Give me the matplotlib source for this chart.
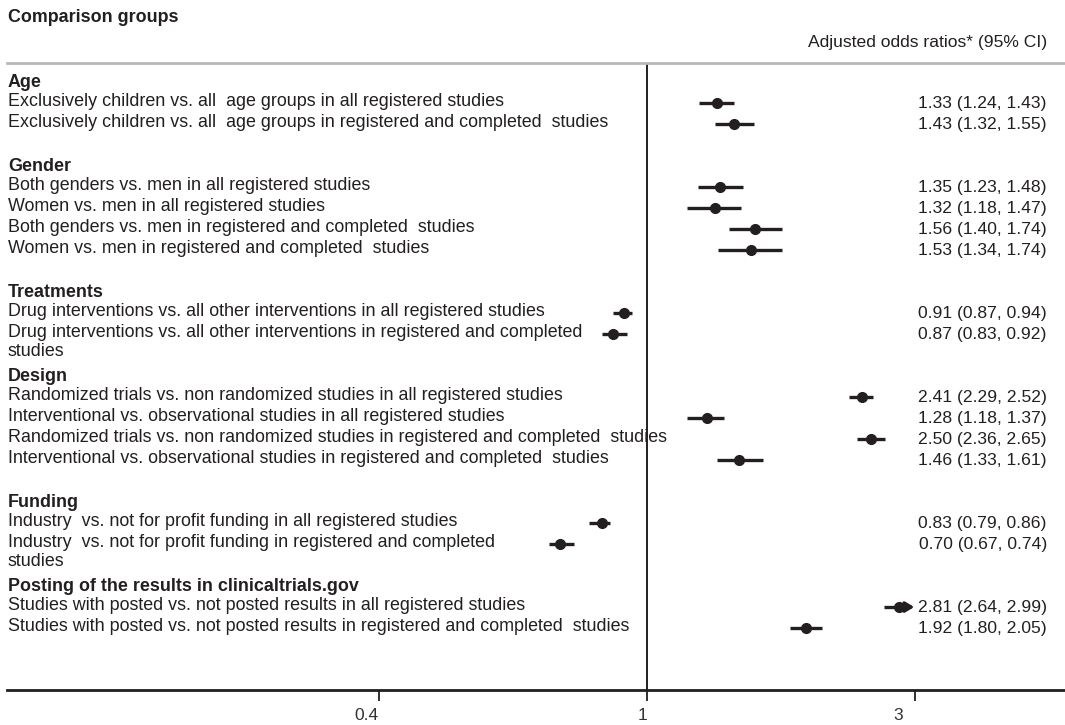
import numpy as np
import matplotlib
matplotlib.use("Agg")
import matplotlib.pyplot as plt
import matplotlib.transforms as mtransforms

plt.rcParams["font.family"] = ["Liberation Sans", "DejaVu Sans"]

# Groups and the comparisons inside each one
groups = [
    "Age",
    "Gender",
    "Treatments",
    "Design",
    "Funding",
    "Posting of the results in clinicaltrials.gov",
]
labels = [
    ["Exclusively children vs. all  age groups in all registered studies",
     "Exclusively children vs. all  age groups in registered and completed  studies"],
    ["Both genders vs. men in all registered studies",
     "Women vs. men in all registered studies",
     "Both genders vs. men in registered and completed  studies",
     "Women vs. men in registered and completed  studies"],
    ["Drug interventions vs. all other interventions in all registered studies",
     "Drug interventions vs. all other interventions in registered and completed\nstudies"],
    ["Randomized trials vs. non randomized studies in all registered studies",
     "Interventional vs. observational studies in all registered studies",
     "Randomized trials vs. non randomized studies in registered and completed  studies",
     "Interventional vs. observational studies in registered and completed  studies"],
    ["Industry  vs. not for profit funding in all registered studies",
     "Industry  vs. not for profit funding in registered and completed\nstudies"],
    ["Studies with posted vs. not posted results in all registered studies",
     "Studies with posted vs. not posted results in registered and completed  studies"],
]
odds = [
    [1.33, 1.43],
    [1.35, 1.32, 1.56, 1.53],
    [0.91, 0.87],
    [2.41, 1.28, 2.50, 1.46],
    [0.83, 0.70],
    [2.81, 1.92],
]
lower = [
    [1.24, 1.32],
    [1.23, 1.18, 1.40, 1.34],
    [0.87, 0.83],
    [2.29, 1.18, 2.36, 1.33],
    [0.79, 0.67],
    [2.64, 1.80],
]
upper = [
    [1.43, 1.55],
    [1.48, 1.47, 1.74, 1.74],
    [0.94, 0.92],
    [2.52, 1.37, 2.65, 1.61],
    [0.86, 0.74],
    [2.99, 2.05],
]
# CI drawn with an arrow at its upper end
arrow_upper = [
    [False, False],
    [False, False, False, False],
    [False, False],
    [False, False, False, False],
    [False, False],
    [True, False],
]

tick_values = [1 / 3, 1, 3]
tick_labels = ["0.4", "1", "3"]

INK = "#231f20"
FS_LABEL = 12.9
FS_VALUE = 12.6

fig = plt.figure(figsize=(10.65, 7.25), dpi=100)
W, H = 1065, 725
ax = fig.add_axes([7 / W, (H - 690) / H, (W - 7) / W, (690 - 63) / H])

ax.set_xscale("log")
ax.set_xlim(0.0726, 5.546)
ax.set_ylim(28.95, -0.905)

for side in ["left", "right"]:
    ax.spines[side].set_visible(False)
ax.spines["top"].set_color("#b8b8b8")
ax.spines["top"].set_linewidth(2)
ax.spines["bottom"].set_color(INK)
ax.spines["bottom"].set_linewidth(2)

ax.set_yticks([])
ax.xaxis.set_minor_locator(matplotlib.ticker.NullLocator())
ax.set_xticks(tick_values)
ax.set_xticklabels(tick_labels)
ax.tick_params(axis="x", direction="out", length=8, width=1.3, color=INK,
               labelsize=12.5, labelcolor="#333333", pad=5)
# the tick labels sit a little left of their ticks
shift = [-12, -4, -17]
for t, dx in zip(ax.get_xticklabels(), shift):
    t.set_transform(t.get_transform() + mtransforms.Affine2D().translate(dx, 0))

ax.axvline(1, color=INK, linewidth=1.4, zorder=1)

trans = mtransforms.blended_transform_factory(ax.transAxes, ax.transData)
x_left = 1 / (W - 7)
x_right = (1047 - 7) / (W - 7)

slot = 0
for g, name in enumerate(groups):
    ax.text(x_left, slot, name, transform=trans, ha="left", va="center",
            fontsize=FS_LABEL, fontweight="bold", color=INK)
    slot += 1
    for i, lab in enumerate(labels[g]):
        est, lo, hi = odds[g][i], lower[g][i], upper[g][i]
        ax.text(x_left, slot - 0.5, lab, transform=trans, ha="left", va="top",
                fontsize=FS_LABEL, color=INK, linespacing=1.2)
        if arrow_upper[g][i]:
            ax.plot([lo, est], [slot, slot], color=INK, linewidth=2.4,
                    solid_capstyle="butt", zorder=3)
            ax.annotate("", xy=(hi, slot), xytext=(est, slot),
                        arrowprops=dict(arrowstyle="-|>,head_length=0.5,head_width=0.3",
                                        color=INK, linewidth=2.4, shrinkA=0, shrinkB=0),
                        zorder=3)
        else:
            ax.plot([lo, hi], [slot, slot], color=INK, linewidth=2.4,
                    solid_capstyle="butt", zorder=3)
        ax.plot(est, slot, marker="o", markersize=7, color=INK, zorder=4)
        ax.text(x_right, slot, f"{est:.2f} ({lo:.2f}, {hi:.2f})", transform=trans,
                ha="right", va="center", fontsize=FS_VALUE, color=INK)
        slot += 1
    slot += 1

fig.text(8 / W, 1 - 18 / H, "Comparison groups", ha="left", va="center",
         fontsize=FS_LABEL, fontweight="bold", color=INK)
fig.text(1047 / W, 1 - 42 / H, "Adjusted odds ratios* (95% CI)", ha="right",
         va="center", fontsize=FS_VALUE, color=INK)

fig.savefig("out.png", dpi=100)
